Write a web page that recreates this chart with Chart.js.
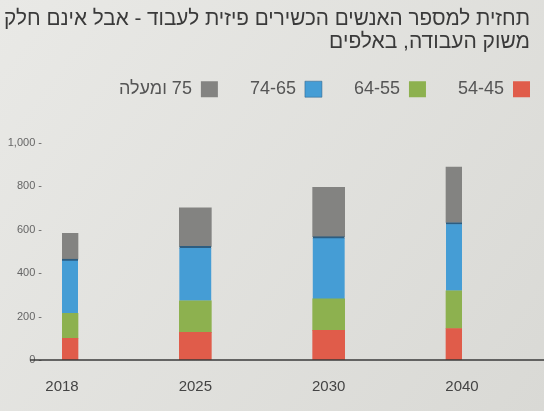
<!DOCTYPE html>
<html>
<head>
<meta charset="utf-8">
<script src="https://cdn.jsdelivr.net/npm/chart.js@4/dist/chart.umd.min.js"></script>
<style>
  html, body { margin: 0; padding: 0; background: #e2e2df; }
  #wrap { width: 544px; height: 411px; }
</style>
</head>
<body>
<div id="wrap"><canvas id="chart" width="544" height="411"></canvas></div>
<script>
// Data (thousands)
const years = ['2018', '2025', '2030', '2040'];
const ages45to54 = [100, 127, 136, 145];
const ages55to64 = [114, 145, 145, 173];
const ages65to74 = [250, 250, 286, 314];
const ages75plus = [118, 177, 227, 255];

const seriesLabels = ['54-45', '64-55', '74-65', '75 ומעלה'];
const titleLines = [
    'תחזית למספר האנשים הכשירים פיזית לעבוד - אבל אינם חלק',
    'משוק העבודה, באלפים'
];

const FONT = "'Liberation Sans', 'DejaVu Sans', sans-serif";
const LEGEND_GAP = 32;

// Paper-like background
const paperBackground = {
    id: 'paperBackground',
    beforeDraw(chart) {
        const ctx = chart.ctx;
        const g = ctx.createLinearGradient(0, 0, chart.width, chart.height);
        g.addColorStop(0, '#e9e9e6');
        g.addColorStop(1, '#d9d9d5');
        ctx.save();
        ctx.fillStyle = g;
        ctx.fillRect(0, 0, chart.width, chart.height);
        ctx.restore();
    }
};

// rtl legend starts one gap in from the right edge, push it back out
const legendShift = {
    id: 'legendShift',
    afterLayout(chart) {
        const lg = chart.legend;
        lg.left += LEGEND_GAP;
        lg.right += LEGEND_GAP;
        lg.top -= 6;
        lg.bottom -= 6;
    }
};

// Baseline runs past the plot on both sides
const baseline = {
    id: 'baseline',
    afterDatasetsDraw(chart) {
        const y = chart.scales.y.getPixelForValue(0);
        const ctx = chart.ctx;
        ctx.save();
        ctx.strokeStyle = '#3a3a3a';
        ctx.lineWidth = 1.5;
        ctx.beginPath();
        ctx.moveTo(30, y);
        ctx.lineTo(chart.width, y);
        ctx.stroke();
        ctx.restore();
    }
};

new Chart(document.getElementById('chart'), {
    type: 'bar',
    data: {
        labels: years,
        datasets: [
            { label: seriesLabels[0], data: ages45to54, backgroundColor: '#e05c4a' },
            { label: seriesLabels[1], data: ages55to64, backgroundColor: '#8db14f' },
            {
                label: seriesLabels[2], data: ages65to74, backgroundColor: '#459dd5',
                borderColor: '#2d5d80', borderWidth: { top: 2, left: 0, right: 0, bottom: 0 }, borderSkipped: false
            },
            { label: seriesLabels[3], data: ages75plus, backgroundColor: '#838381' }
        ]
    },
    options: {
        responsive: false,
        animation: false,
        devicePixelRatio: 1,
        layout: { padding: { top: 4, left: 4, right: 14, bottom: 9 } },
        datasets: { bar: { barThickness: 32 } },
        plugins: {
            title: {
                display: true,
                text: titleLines,
                align: 'end',
                color: '#3a3a3a',
                font: { family: FONT, size: 21, weight: 'normal', lineHeight: 1.1 },
                padding: { top: 4, bottom: 0 }
            },
            legend: {
                display: true,
                align: 'start',
                rtl: true,
                textDirection: 'rtl',
                labels: {
                    boxWidth: 17,
                    boxHeight: 16,
                    padding: LEGEND_GAP,
                    color: '#555',
                    font: { family: FONT, size: 18 }
                }
            },
            tooltip: { enabled: false }
        },
        scales: {
            x: {
                stacked: true,
                offset: false,
                grid: { display: false, drawTicks: false },
                border: { display: false },
                afterFit(scale) { scale.height = 42; },
                ticks: { color: '#444', font: { family: FONT, size: 15 }, padding: 18 }
            },
            y: {
                stacked: true,
                min: 0,
                max: 1130,
                grid: { display: false, drawTicks: false },
                border: { display: false },
                afterFit(scale) { scale.width = 58; },
                afterBuildTicks(scale) {
                    scale.ticks = scale.ticks.filter(t => t.value % 200 === 0);
                },
                ticks: {
                    stepSize: 200,
                    color: '#666',
                    padding: 20,
                    font: { family: FONT, size: 11 },
                    callback(value) {
                        // LRM marks keep the trailing dash on the right
                        return '\u200E' + value.toLocaleString('en-US') + ' -\u200E';
                    }
                }
            },
            yRight: {
                position: 'right',
                display: true,
                grid: { display: false },
                border: { display: false },
                ticks: { display: false },
                afterFit(scale) { scale.width = 68; }
            }
        }
    },
    plugins: [paperBackground, legendShift, baseline]
});
</script>
</body>
</html>
